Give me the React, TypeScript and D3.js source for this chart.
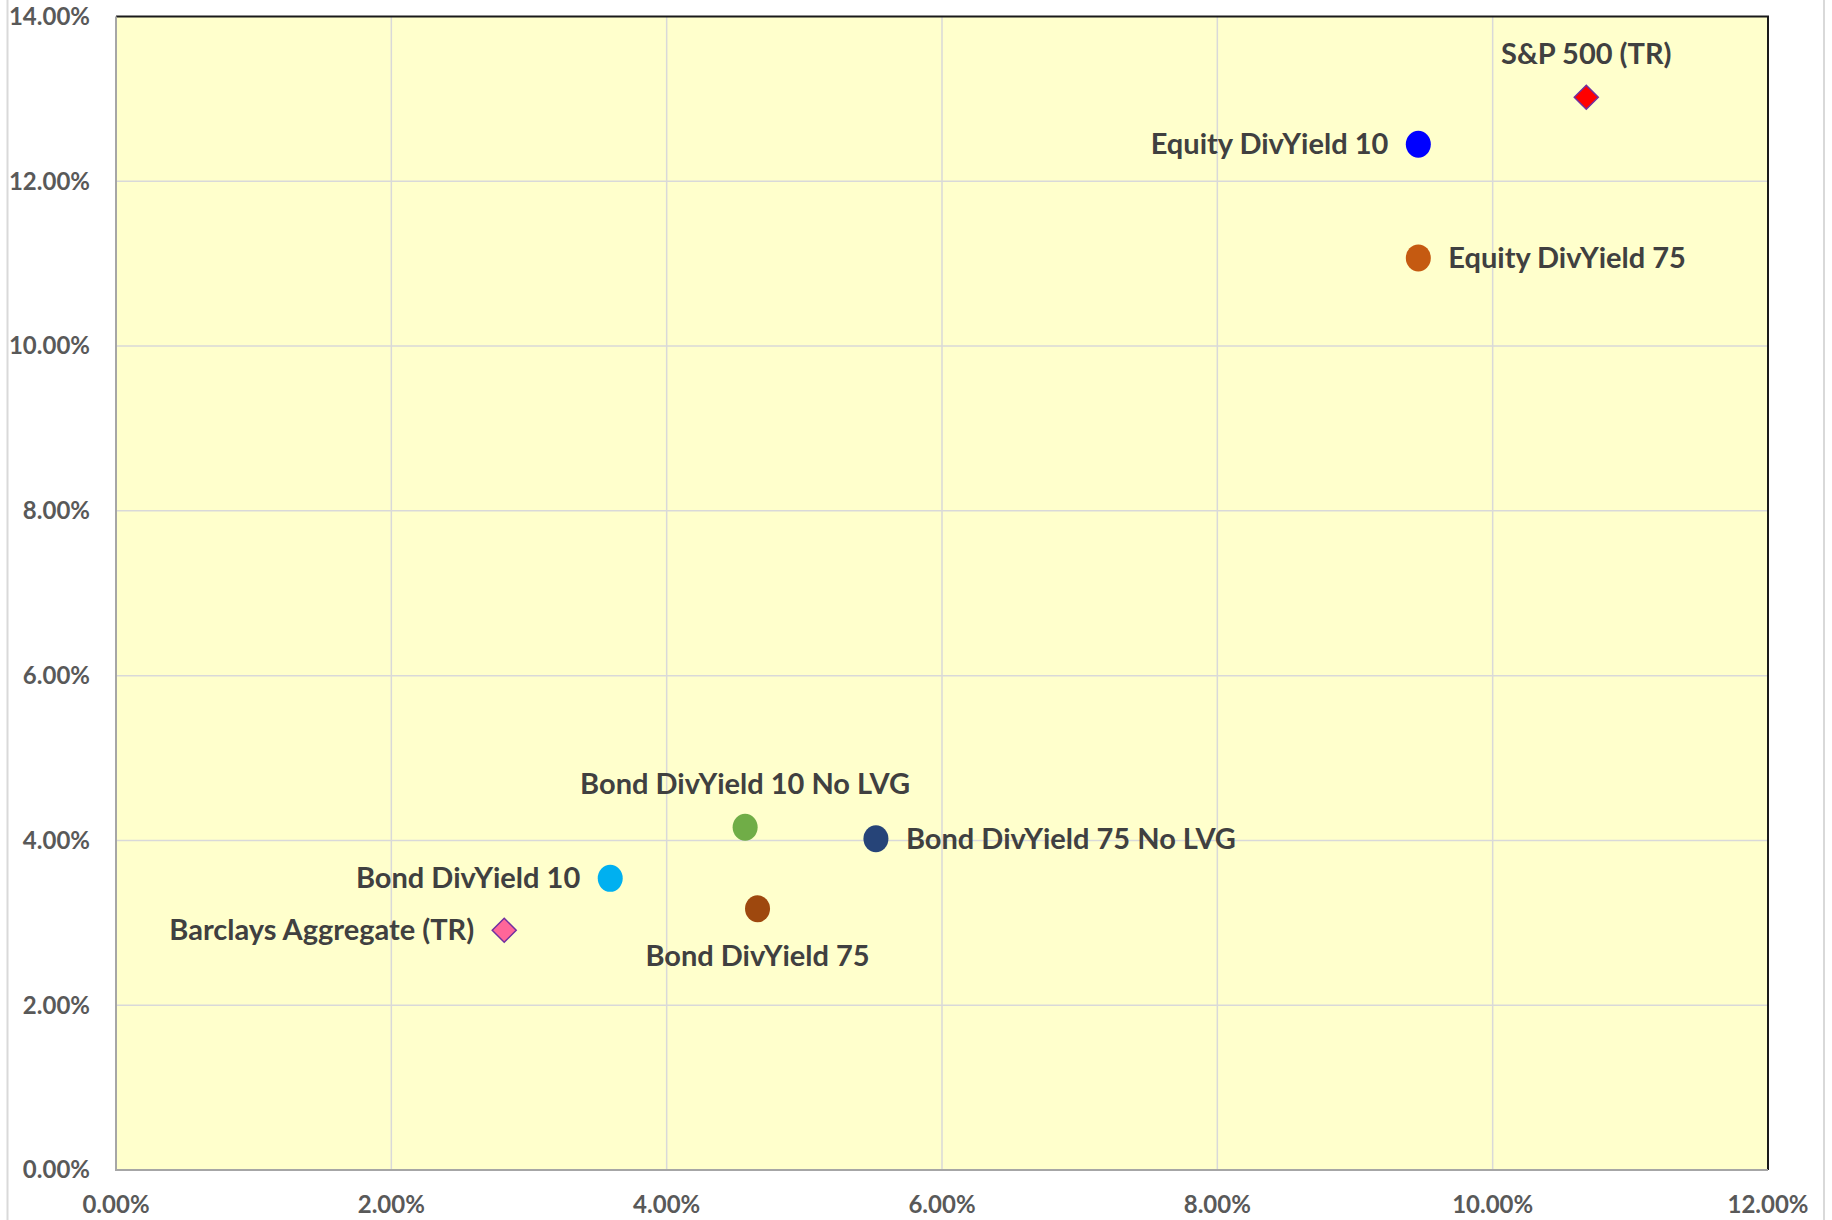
import React, { useRef, useEffect } from "react";
import * as d3 from "d3";

// series (x = risk %, y = return %)
const seriesNames = [
  "S&P 500 (TR)",
  "Equity DivYield 10",
  "Equity DivYield 75",
  "Bond DivYield 10 No LVG",
  "Bond DivYield 75 No LVG",
  "Bond DivYield 10",
  "Bond DivYield 75",
  "Barclays Aggregate (TR)",
];
const xValues = [10.68, 9.46, 9.46, 4.57, 5.52, 3.59, 4.66, 2.82];
const yValues = [13.02, 12.45, 11.07, 4.16, 4.02, 3.54, 3.17, 2.91];
const xTicks = [0, 2, 4, 6, 8, 10, 12];
const yTicks = [0, 2, 4, 6, 8, 10, 12, 14];

const markerColors = ["#FF0000", "#0000FF", "#C55A11", "#70AD47", "#264478", "#00B0F0", "#9E480E", "#FF6699"];
const markerShapes = ["diamond", "circle", "circle", "circle", "circle", "circle", "circle", "diamond"];
const labelSides = ["above", "left", "right", "above", "right", "left", "below", "left"];

const W = 1832;
const H = 1220;
const FONT = "Lato, 'Open Sans', sans-serif";

const ScatterChart = () => {
  const svgRef = useRef(null);

  useEffect(() => {
    const svg = d3.select(svgRef.current);
    svg.selectAll("*").remove();

    const x = d3.scaleLinear().domain([0, 12]).range([116, 1768]);
    const y = d3.scaleLinear().domain([0, 14]).range([1170, 16.5]);

    // outer chart frame (only the sides show)
    [7.5, 1824].forEach((lx) => {
      svg.append("line").attr("x1", lx).attr("x2", lx).attr("y1", 0).attr("y2", H)
        .attr("stroke", "#D9D9D9").attr("stroke-width", 2);
    });

    // plot area
    svg.append("rect")
      .attr("x", x(0)).attr("y", y(14))
      .attr("width", x(12) - x(0)).attr("height", y(0) - y(14))
      .attr("fill", "#FFFFCC");

    // gridlines
    svg.append("g").selectAll("line").data(xTicks.slice(1, -1)).join("line")
      .attr("x1", (d) => x(d)).attr("x2", (d) => x(d))
      .attr("y1", y(14)).attr("y2", y(0))
      .attr("stroke", "#D9D9D9").attr("stroke-width", 1.5);
    svg.append("g").selectAll("line").data(yTicks.slice(1, -1)).join("line")
      .attr("x1", x(0)).attr("x2", x(12))
      .attr("y1", (d) => y(d)).attr("y2", (d) => y(d))
      .attr("stroke", "#D9D9D9").attr("stroke-width", 1.5);

    // border: top & right dark, left & bottom gray axis lines
    svg.append("path")
      .attr("d", `M${x(0)},${y(14)}H${x(12)}V${y(0)}`)
      .attr("fill", "none").attr("stroke", "#1a1a1a").attr("stroke-width", 2);
    svg.append("path")
      .attr("d", `M${x(0)},${y(14)}V${y(0)}H${x(12)}`)
      .attr("fill", "none").attr("stroke", "#A6A6A6").attr("stroke-width", 2);

    // tick labels
    svg.append("g").selectAll("text").data(yTicks).join("text")
      .attr("x", 90).attr("y", (d) => y(d)).attr("dy", "0.35em")
      .attr("text-anchor", "end")
      .style("font-family", FONT).style("font-weight", 700).style("font-size", "24px")
      .style("fill", "#595959")
      .text((d) => `${d.toFixed(2)}%`);
    svg.append("g").selectAll("text").data(xTicks).join("text")
      .attr("x", (d) => x(d)).attr("y", 1205).attr("dy", "0.35em")
      .attr("text-anchor", "middle")
      .style("font-family", FONT).style("font-weight", 700).style("font-size", "24px")
      .style("fill", "#595959")
      .text((d) => `${d.toFixed(2)}%`);

    // markers
    seriesNames.forEach((name, i) => {
      const cx = x(xValues[i]);
      const cy = y(yValues[i]);
      if (markerShapes[i] === "diamond") {
        const r = 12;
        svg.append("path")
          .attr("d", `M${cx},${cy - r}L${cx + r},${cy}L${cx},${cy + r}L${cx - r},${cy}Z`)
          .attr("fill", markerColors[i]).attr("stroke", "#7030A0").attr("stroke-width", 1.5);
      } else {
        svg.append("ellipse")
          .attr("cx", cx).attr("cy", cy).attr("rx", 12.5).attr("ry", 13.5)
          .attr("fill", markerColors[i]);
      }

      // data label
      const side = labelSides[i];
      let lx = cx;
      let ly = cy;
      let anchor = "middle";
      if (side === "left") { lx = cx - 30; anchor = "end"; }
      if (side === "right") { lx = cx + 30; anchor = "start"; }
      if (side === "above") ly = cy - 43;
      if (side === "below") ly = cy + 47;
      svg.append("text")
        .attr("x", lx).attr("y", ly).attr("dy", "0.35em")
        .attr("text-anchor", anchor)
        .style("font-family", FONT).style("font-weight", 700).style("font-size", "29px")
        .style("fill", "#404040")
        .text(name);
    });
  }, []);

  return <svg ref={svgRef} width={W} height={H} style={{ display: "block" }} />;
};

export default function App() {
  return (
    <div style={{ position: "absolute", left: 0, top: 0, width: W, height: H, background: "#fff" }}>
      <ScatterChart />
    </div>
  );
}
